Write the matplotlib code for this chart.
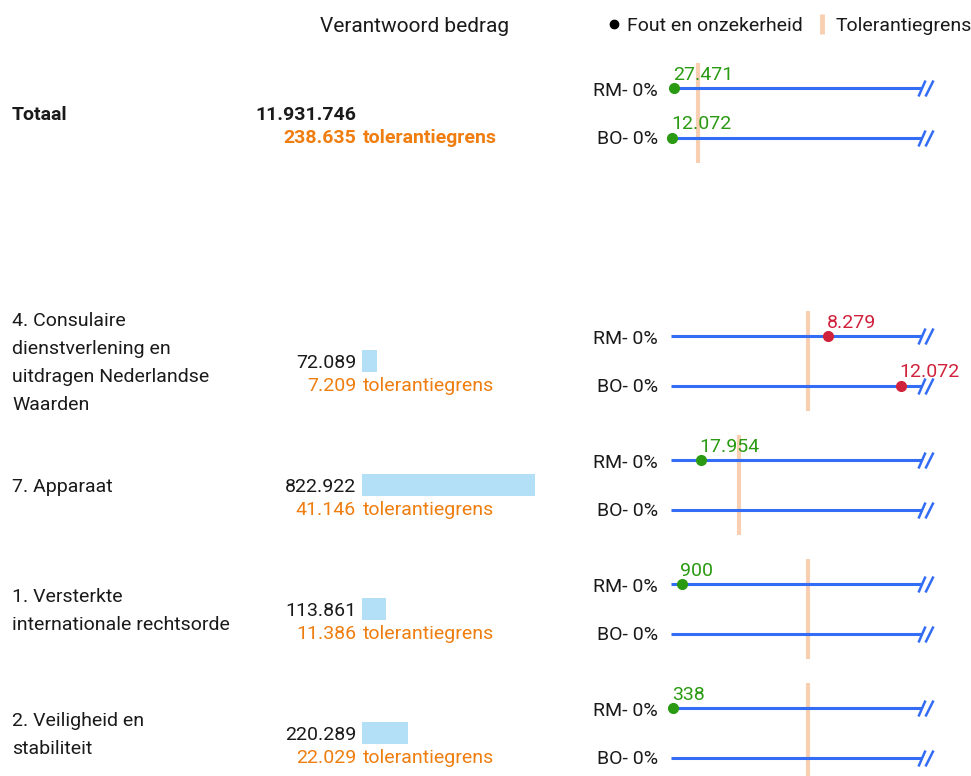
#!/usr/bin/env python3

import matplotlib

matplotlib.use("Agg")

import matplotlib.pyplot as plt
import matplotlib.transforms as mtransforms
from matplotlib.lines import Line2D
from matplotlib.path import Path

categorieen = [
    "Totaal",
    "4. Consulaire\ndienstverlening en\nuitdragen Nederlandse\nWaarden",
    "7. Apparaat",
    "1. Versterkte\ninternationale rechtsorde",
    "2. Veiligheid en\nstabiliteit",
]
verantwoord = [11931746, 72089, 822922, 113861, 220289]
tolerantie = [238635, 7209, 41146, 11386, 22029]
fout_rm = [27471, 8279, 17954, 900, 338]
fout_bo = [12072, 12072, None, None, None]
schaal_max = [2218000, 13200, 151900, 20860, 40360]
reeksen = ["RM- 0%", "BO- 0%"]

W, H = 971, 776
TEXT = "#1a1a1a"
ORANJE = "#ef7d0f"
BALK = "#b3e0f7"
LIJN = "#336cf5"
GROEN = "#2a9a12"
ROOD = "#d0223c"
TOL = "#f8cfb0"
FS = 14
TY = 2  # text sits a little lower than its box centre


def fx(x):
    return x / W


def fy(y):
    return 1 - y / H


def rect(x0, y0, x1, y1):
    return [fx(x0), fy(y1), (x1 - x0) / W, (y1 - y0) / H]


def fmt(v):
    return f"{v:,}".replace(",", ".")


def main():
    plt.rcParams["font.family"] = ["Roboto", "DejaVu Sans"]

    fig = plt.figure(figsize=(W / 100, H / 100), dpi=100)

    # kop en legenda
    fig.text(fx(415), fy(26), "Verantwoord bedrag", ha="center", va="center",
             fontsize=15, color=TEXT)
    handles = [
        Line2D([], [], marker="o", color="black", ls="", markersize=6),
        Line2D([], [], marker="|", color=TOL, ls="", markersize=15, mew=3.5),
    ]
    fig.legend(handles, ["Fout en onzekerheid", "Tolerantiegrens"], ncol=2,
               frameon=False, loc="center", bbox_to_anchor=(fx(790), fy(26)),
               handlelength=0.6, handletextpad=0.4, columnspacing=0.7,
               fontsize=FS, labelcolor=TEXT, borderpad=0, borderaxespad=0)

    centers = [113, 361, 485, 609, 733]
    bar_max = max(verantwoord[1:])

    slash = Path([(-7, -8), (0, 8), (0, -8), (8, 8)],
                 [Path.MOVETO, Path.LINETO, Path.MOVETO, Path.LINETO])

    for i, cat in enumerate(categorieen):
        cy = centers[i]
        totaal = i == 0
        weight = "bold" if totaal else "normal"

        fig.text(fx(12), fy(cy + TY), cat, ha="left", va="center", fontsize=FS,
                 color=TEXT, weight=weight, linespacing=1.72)
        fig.text(fx(356), fy(cy + TY), fmt(verantwoord[i]), ha="right",
                 va="center", fontsize=FS, color=TEXT, weight=weight)
        fig.text(fx(356), fy(cy + 23 + TY), fmt(tolerantie[i]), ha="right",
                 va="center", fontsize=FS, color=ORANJE, weight=weight)
        fig.text(fx(363), fy(cy + 23 + TY), "tolerantiegrens", ha="left",
                 va="center", fontsize=FS, color=ORANJE, weight=weight)

        if not totaal:
            bx = fig.add_axes(rect(362, cy - 11, 535, cy + 11))
            bx.barh(0, verantwoord[i], height=1, color=BALK)
            bx.set_xlim(0, bar_max)
            bx.set_ylim(-0.5, 0.5)
            bx.axis("off")

        ax = fig.add_axes(rect(671, cy - 50, 922, cy + 50))
        ax.set_xlim(0, schaal_max[i])
        ax.set_ylim(1.52, -0.52)
        ax.axis("off")
        ax.axvline(tolerantie[i], color=TOL, lw=3, zorder=1)

        offset = mtransforms.offset_copy(ax.transData, fig=fig, x=3, y=0,
                                         units="dots")
        for j, (naam, waarde) in enumerate(zip(reeksen, [fout_rm[i], fout_bo[i]])):
            ax.plot([0, schaal_max[i]], [j, j], color=LIJN, lw=2.2,
                    solid_capstyle="butt", zorder=2)
            ax.plot([schaal_max[i]], [j], marker=slash, markersize=11.5,
                    mec=LIJN, mew=1.8, ls="", clip_on=False, transform=offset)
            fig.text(fx(658), fy(cy - 24.5 + 49 * j + TY), naam, ha="right",
                     va="center", fontsize=FS, color=TEXT)
            if waarde is None:
                continue
            kleur = GROEN if waarde <= tolerantie[i] else ROOD
            ax.plot([waarde], [j], marker="o", color=kleur, markersize=7,
                    ls="", zorder=3, clip_on=False)
            ax.annotate(fmt(waarde), (waarde, j), xytext=(-1, 3.5),
                        textcoords="offset points", ha="left", va="bottom",
                        fontsize=FS, color=kleur)

    fig.savefig("out.png", dpi=100)
    plt.close(fig)


if __name__ == "__main__":
    main()
